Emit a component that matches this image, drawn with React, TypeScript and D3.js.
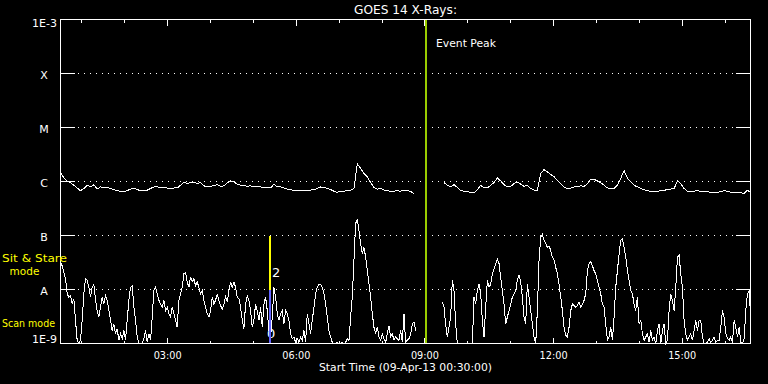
import React from 'react';
import * as d3 from 'd3';

const W = 768;
const H = 384;

// time axis: hours since 09-Apr-13 00:00
const startHour = 0.5; // 00:30
const endHour = 16.593;
const lowStepSec = 140;
const highStepSec = 280;

const title = 'GOES 14 X-Rays:';
const xTitle = 'Start Time (09-Apr-13 00:30:00)';
const tickHours = [1, 2, 3, 4, 5, 6, 7, 8, 9, 10, 11, 12, 13, 14, 15, 16];
const labeledHours = [3, 6, 9, 12, 15];
const hourLabels = ['03:00', '06:00', '09:00', '12:00', '15:00'];
const classExps = [-4, -5, -6, -7, -8];
const classLabels = ['X', 'M', 'C', 'B', 'A'];
const yMin = -9;
const yMax = -3;

const eventPeakHour = 9 + 1 / 60;
const sitStareHour = 5 + 23 / 60;
const sitStareTop = -7; // yellow bar from B
const sitStareMid = -8; // blue bar from A to bottom

// log10 flux, 1-8 A channel, 280 s cadence
const highLog: (number | null)[] = [
  -5.84, -5.93, -5.99, -6.02, -6.07, -6.12, -6.17, -6.13, -6.07, -6.10,
  -6.06, -6.14, -6.10, -6.12, -6.11, -6.13, -6.15, -6.17, -6.18, -6.19,
  -6.17, -6.14, -6.12, -6.15, -6.17, -6.16, -6.16, -6.13, -6.10, -6.10,
  -6.11, -6.11, -6.12, -6.13, -6.12, -6.12, -6.07, -6.01, -6.04, -6.02,
  -6.01, -6.04, -6.02, -6.08, -6.10, -6.09, -6.07, -6.06, -6.09, -6.08,
  -6.02, -5.99, -6.01, -6.05, -6.07, -6.07, -6.09, -6.08, -6.10, -6.09,
  -6.10, -6.12, -6.12, -6.12, -6.05, -6.10, -6.10, -6.12, -6.14, -6.15,
  -6.17, -6.17, -6.17, -6.17, -6.17, -6.16, -6.15, -6.13, -6.10, -6.11,
  -6.13, -6.15, -6.18, -6.20, -6.18, -6.18, -6.17, -6.16, -6.13, -5.67,
  -5.76, -5.85, -5.91, -6.02, -6.11, -6.14, -6.13, -6.16, -6.17, -6.18,
  -6.18, -6.17, -6.18, -6.16, -6.17, -6.18, -6.23, null, null, null,
  null, null, null, null, null, -6.02, -6.07, -6.10, -6.06, -6.11,
  -6.17, -6.18, -6.19, -6.20, -6.21, -6.15, -6.07, -6.12, -6.12, -6.07,
  -6.02, -5.93, -5.99, -6.06, -6.10, -6.09, -6.04, -6.01,
  -6.05, -6.09, -6.07, -6.13, -6.16, -6.17, -5.85, -5.78, -5.82, -5.87,
  -5.91, -5.98, -6.04, -6.10, -6.13, -6.12, -6.10, -6.09, -6.08, -6.09,
  -6.04, -5.96, -5.96, -5.99, -6.02, -6.07, -6.12, -6.13, -6.13, -6.07,
  -5.94, -5.80, -5.94, -6.01, -6.07, -6.10, -6.13, -6.15, -6.17, -6.18,
  -6.18, -6.18, -6.17, -6.17, -6.14, -6.14, -6.13, -5.99, -6.04, -6.13,
  -6.18, -6.19, -6.18, -6.17, -6.18, -6.19, -6.19, -6.20, -6.20, -6.20,
  -6.19, -6.17, -6.18, -6.20, -6.20, -6.20, -6.21, -6.22, -6.16, -6.21,
];

// log10 flux, 0.5-4 A channel, 140 s cadence
const lowLog: (number | null)[] = [
  -7.49, -7.56, -7.68, -7.80, -8.08, -8.14, -8.11, -8.27, -8.17, -8.57,
  -8.94, -9.00, -8.94, -8.57, -8.08, -7.80, -7.83, -7.96, -8.14, -7.96,
  -7.90, -8.20, -8.39, -8.51, -8.33, -8.14, -8.27, -8.11, -8.20, -8.39,
  -8.57, -8.76, -8.64, -8.82, -8.73, -8.94, -8.82, -8.91, -8.76, -8.94,
  -8.57, -8.20, -7.96, -7.93, -8.33, -8.57, -8.88, -9.00, -9.00, -9.00,
  -8.91, -8.76, -8.98, -8.82, -8.94, -8.51, -8.02, -7.96, -8.08, -8.20,
  -8.27, -8.33, -8.20, -8.39, -8.33, -8.45, -8.51, -8.33, -8.45, -8.57,
  -8.70, -8.20, -8.08, -7.96, -7.71, -7.68, -7.86, -7.96, -7.77, -7.86,
  -7.80, -7.93, -7.86, -7.96, -8.08, -8.02, -8.20, -8.33, -8.45, -8.51,
  -8.39, -8.14, -8.27, -8.20, -8.08, -8.20, -8.30, -8.36, -8.27, -8.14,
  -8.23, -8.02, -7.86, -7.96, -7.86, -7.96, -8.14, -8.17, -8.33, -8.57,
  -8.73, -8.27, -8.11, -8.20, -8.39, -8.70, -8.57, -8.27, -8.39, -8.57,
  -8.33, -8.70, -8.27, -8.14, -8.39, -8.76, -8.88, -8.51, -7.96, -8.14,
  -8.45, -8.57, -8.45, -8.39, -8.64, -8.39, -8.45, -8.57, -8.82, -8.91,
  -8.88, -8.98, -8.91, -8.98, -8.88, -8.94, -8.76, -8.98, -8.45, -8.64,
  -8.82, -8.57, -8.33, -8.08, -7.96, -7.91, -7.91, -7.96, -8.08, -8.27,
  -8.51, -8.76, -8.88, -8.98, -9.00, -9.00, -8.98, -9.00, -9.00, -8.98,
  -9.00, -8.98, -8.91, -8.94, -8.51, -8.14, -7.46, -6.78, -6.69, -6.91,
  -7.15, -7.34, -7.22, -7.40, -7.65, -7.90, -8.14, -8.45, -8.70, -8.82,
  -8.70, -8.88, -8.94, -8.82, -8.91, -8.98, -8.82, -8.67, -8.88, -8.82,
  -8.94, -8.88, -8.91, -8.94, -8.76, -8.98, -8.45, -8.98,
  -8.94, -8.91, -8.82, -8.64, -8.60, -8.76,
  null, null, null, null, null, null, null, null, null, null, null, null, null, null, null,
  -8.23, -8.33, -8.64, -8.88, -8.70, -8.51, -7.83, -8.02, -8.64, -9.00,
  -9.00, -9.00, -9.00, -9.00, -9.00, -9.00, -9.00, -9.00, -9.00, -8.14,
  -8.27, -8.02, -7.90, -8.08, -8.57, -8.88, -8.33, -7.83, -7.96, -7.90,
  -7.71, -7.62, -7.52, -7.43, -7.52, -7.77, -8.02, -8.27, -8.64, -8.51,
  -8.39, -8.27, -8.14, -8.08, -8.02, -7.83, -7.74, -7.86, -8.14, -8.51,
  -8.64, -7.90, -8.14, -8.39, -8.64, -8.88, -9.00, -8.39, -7.46, -7.03,
  -6.98, -7.09, -7.15, -7.22, -7.19, -7.28, -7.40, -7.46, -7.59, -7.71,
  -7.90, -8.14, -8.39, -8.70, -8.85, -8.88, -8.70, -8.39, -8.27, -8.30,
  -8.33, -8.30, -8.23, -8.33, -8.27, -8.20, -8.08, -7.65, -7.52, -7.49,
  -7.56, -7.65, -7.71, -7.83, -7.96, -8.08, -8.27, -8.33, -8.64, -8.94,
  -8.88, -8.70, -8.94, -8.51, -7.96, -7.65, -7.34, -7.09, -7.06, -7.22,
  -7.40, -7.65, -7.83, -8.02, -8.08, -8.27, -8.39, -8.14, -8.64, -8.57,
  -8.82, -8.94, -8.88, -8.82, -8.98, -8.76, -8.94, -8.88, -9.00, -8.76,
  -8.64, -9.00, -8.76, -8.64, -9.00, -8.94, -8.39, -8.08, -8.20, -8.39,
  -7.96, -7.40, -7.37, -7.71, -7.96, -8.57, -8.82, -8.94, -8.88, -8.82,
  -8.94, -8.76, -8.57, -8.76, -8.57, -8.57, -8.88, -9.00, -9.00, -8.98,
  -8.91, -8.98, -8.94, -8.88, -8.98, -8.94, -8.94, -8.70, -8.39, -8.51,
  -8.82, -8.91, -8.94, -8.88, -8.98, -8.57, -8.70, -8.88, -8.70, -8.98,
  -9.00, -8.91, -8.39, -8.08, -8.02, -8.57,
];

const FONT = '"DejaVu Sans", sans-serif';

export default function App() {
  const left = 60.5, right = 750.5, top = 19.5, bottom = 343.5;
  const x = d3.scaleLinear().domain([startHour, endHour]).range([left, right]);
  const y = d3.scaleLinear().domain([yMin, yMax]).range([bottom, top]);

  const toPts = (arr: (number | null)[], step: number) =>
    arr.map((v, i) => [startHour + (i * step) / 3600, v] as [number, number | null]);

  const line = d3
    .line<[number, number | null]>()
    .defined((d) => d[1] != null)
    .x((d) => x(d[0]))
    .y((d) => y(Math.max(yMin, Math.min(yMax, d[1] as number))));

  const highPath = line(toPts(highLog, highStepSec)) || '';
  const lowPath = line(toPts(lowLog, lowStepSec)) || '';

  const px = (v: number) => Math.round(v - 0.5) + 0.5;
  const evX = x(eventPeakHour);
  const ssX = x(sitStareHour);

  return (
    <svg
      width={W}
      height={H}
      style={{ position: 'absolute', left: 0, top: 0, background: '#000' }}
      fontFamily={FONT}
    >
      <rect x={0} y={0} width={W} height={H} fill="#000" />
      {/* title */}
      <text x={(left + right) / 2} y={14} fill="#fff" fontSize={11.5} textAnchor="middle" textLength={103} lengthAdjust="spacingAndGlyphs">
        {title}
      </text>

      {/* grid + y ticks */}
      {classExps.map((e, i) => {
        const yy = px(y(e));
        return (
          <g key={e} shapeRendering="crispEdges">
            <line x1={left} x2={75} y1={yy} y2={yy} stroke="#fff" />
            <line x1={736} x2={right} y1={yy} y2={yy} stroke="#fff" />
            <line x1={78} x2={735} y1={yy} y2={yy} stroke="#fff" strokeDasharray="1 5" />
            <text x={44} y={y(e) + 5} fill="#fff" fontSize={11} textAnchor="middle">
              {classLabels[i]}
            </text>
          </g>
        );
      })}
      <text x={57} y={27} fill="#fff" fontSize={11} textAnchor="end" textLength={25} lengthAdjust="spacingAndGlyphs">1E-3</text>
      <text x={57} y={343} fill="#fff" fontSize={11} textAnchor="end" textLength={25} lengthAdjust="spacingAndGlyphs">1E-9</text>

      {/* x ticks */}
      {tickHours.map((h) => {
        const xx = px(x(h));
        const len = labeledHours.includes(h) ? 6 : 3;
        return (
          <g key={h} shapeRendering="crispEdges">
            <line x1={xx} x2={xx} y1={top} y2={top + len} stroke="#fff" />
            <line x1={xx} x2={xx} y1={bottom} y2={bottom - len} stroke="#fff" />
          </g>
        );
      })}
      {labeledHours.map((h, i) => (
        <text key={h} x={x(h)} y={359} fill="#fff" fontSize={11} textAnchor="middle" textLength={28} lengthAdjust="spacingAndGlyphs">
          {hourLabels[i]}
        </text>
      ))}
      <text x={(left + right) / 2} y={371} fill="#fff" fontSize={11} textAnchor="middle" textLength={173} lengthAdjust="spacingAndGlyphs">
        {xTitle}
      </text>

      {/* data */}
      <path d={highPath} fill="none" stroke="#fff" strokeWidth={1} shapeRendering="crispEdges" />
      <path d={lowPath} fill="none" stroke="#fff" strokeWidth={1} shapeRendering="crispEdges" />

      {/* event peak */}
      <line x1={evX} x2={evX} y1={top} y2={bottom} stroke="#9acd00" strokeWidth={2} shapeRendering="crispEdges" />
      <text x={436} y={47} fill="#fff" fontSize={11} textLength={60} lengthAdjust="spacingAndGlyphs">Event Peak</text>

      {/* sit & stare / scan markers */}
      <text x={272} y={277} fill="#fff" fontSize={13}>2</text>
      <text x={267} y={338} fill="#fff" fontSize={13}>0</text>
      <line x1={ssX} x2={ssX} y1={y(sitStareTop)} y2={y(sitStareMid)} stroke="#ffff00" strokeWidth={2} shapeRendering="crispEdges" />
      <line x1={ssX} x2={ssX} y1={y(sitStareMid)} y2={bottom} stroke="#6464ff" strokeWidth={2} shapeRendering="crispEdges" />

      {/* axes box */}
      <rect x={left} y={top} width={right - left} height={bottom - top} fill="none" stroke="#fff" shapeRendering="crispEdges" />

      {/* yellow mode labels */}
      <text x={2} y={262} fill="#ffff00" fontSize={10.5} textLength={65} lengthAdjust="spacingAndGlyphs">Sit &amp; Stare</text>
      <text x={24.5} y={275} fill="#ffff00" fontSize={10.5} textAnchor="middle">mode</text>
      <text x={2} y={327} fill="#ffff00" fontSize={11} textLength={53} lengthAdjust="spacingAndGlyphs">Scan mode</text>
    </svg>
  );
}
